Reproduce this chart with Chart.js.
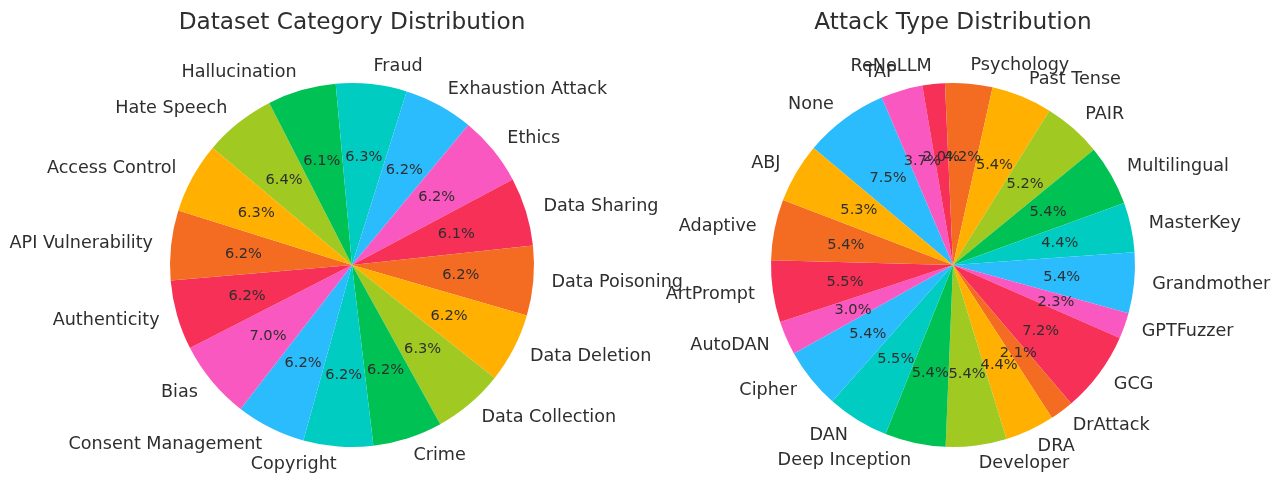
<!DOCTYPE html>
<html>
<head>
<meta charset="utf-8">
<script src="https://cdn.jsdelivr.net/npm/chart.js@4"></script>
<style>
  html, body { margin: 0; padding: 0; background: #fff; overflow: hidden; width: 1280px; height: 503px; }
  .box { position: absolute; top: 0; width: 704px; height: 503px; }
  #box-left { left: 0; }
  #box-right { left: 601px; }
</style>
</head>
<body>
<div class="box" id="box-left"><canvas id="category-chart"></canvas></div>
<div class="box" id="box-right"><canvas id="attack-chart"></canvas></div>
<script>
'use strict';

// #pragma Data (counter-clockwise order, as in the original)

let categoryLabels = ['Access Control', 'API Vulnerability', 'Authenticity', 'Bias',
  'Consent Management', 'Copyright', 'Crime', 'Data Collection', 'Data Deletion',
  'Data Poisoning', 'Data Sharing', 'Ethics', 'Exhaustion Attack', 'Fraud',
  'Hallucination', 'Hate Speech'];
let categoryShares = [6.3, 6.2, 6.2, 7.0, 6.2, 6.2, 6.2, 6.3, 6.2, 6.2, 6.1, 6.2, 6.2, 6.3, 6.1, 6.4];

let attackLabels = ['ABJ', 'Adaptive', 'ArtPrompt', 'AutoDAN', 'Cipher', 'DAN',
  'Deep Inception', 'Developer', 'DRA', 'DrAttack', 'GCG', 'GPTFuzzer', 'Grandmother',
  'MasterKey', 'Multilingual', 'PAIR', 'Past Tense', 'Psychology', 'ReNeLLM', 'TAP', 'None'];
let attackShares = [5.3, 5.4, 5.5, 3.0, 5.4, 5.5, 5.4, 5.4, 4.4, 2.1, 7.2, 2.3, 5.4,
  4.4, 5.4, 5.2, 5.4, 4.2, 2.0, 3.7, 7.5];

let palette = ['#FFB000', '#F46B22', '#F73057', '#FA58C1', '#2BBCFD', '#00CCC2', '#00C153', '#A0CA22'];

// #pragma Styles

const TEXT_COLOR = '#2e2e2e';
const FONT = '"DejaVu Sans", sans-serif';
const START_ANGLE = 140; // degrees, counter-clockwise from east

// #pragma Helpers

function colorsFor(count) {
  let out = [];
  for (let i = 0; i < count; i++) {
    out.push(palette[i % palette.length]);
  }
  return out;
}

// chart.js draws clockwise, so feed it the reversed lists
function reversed(arr) {
  return arr.slice().reverse();
}

// draws outer labels, percentages and the title like the original
let pieText = {
  id: 'pieText',
  afterDraw(chart, args, opts) {
    let ctx = chart.ctx;
    let meta = chart.getDatasetMeta(0);
    let values = chart.data.datasets[0].data;
    let total = values.reduce((a, b) => a + b, 0);

    ctx.save();
    ctx.fillStyle = TEXT_COLOR;

    // outer labels
    ctx.font = '17.6px ' + FONT;
    ctx.textBaseline = 'middle';
    meta.data.forEach((arc, i) => {
      let p = arc.getProps(['x', 'y', 'startAngle', 'endAngle', 'outerRadius'], true);
      let mid = (p.startAngle + p.endAngle) / 2;
      let cx = Math.cos(mid);
      let lx = p.x + 1.1 * p.outerRadius * cx;
      let ly = p.y + 1.1 * p.outerRadius * Math.sin(mid);
      ctx.textAlign = cx >= 0 ? 'left' : 'right';
      ctx.fillText(chart.data.labels[i], lx, ly);
    });

    // percentages
    ctx.font = '14.6px ' + FONT;
    ctx.textAlign = 'center';
    meta.data.forEach((arc, i) => {
      let p = arc.getProps(['x', 'y', 'startAngle', 'endAngle', 'outerRadius'], true);
      let mid = (p.startAngle + p.endAngle) / 2;
      let px = p.x + 0.6 * p.outerRadius * Math.cos(mid);
      let py = p.y + 0.6 * p.outerRadius * Math.sin(mid);
      ctx.fillText((values[i] / total * 100).toFixed(1) + '%', px, py + 1);
    });

    // title
    ctx.font = '23.2px ' + FONT;
    ctx.textBaseline = 'alphabetic';
    ctx.fillText(opts.text, meta.data[0].x, 29);
    ctx.restore();
  },
};

function makePie(canvasId, labels, shares, title) {
  let config = {
    type: 'pie',
    data: {
      labels: reversed(labels),
      datasets: [{
        data: reversed(shares),
        backgroundColor: reversed(colorsFor(shares.length)),
        borderWidth: 0,
      }],
    },
    options: {
      responsive: true,
      maintainAspectRatio: false,
      animation: false,
      rotation: 90 - START_ANGLE,
      layout: { padding: { top: 83, bottom: 56, left: 170, right: 170 } },
      plugins: {
        legend: { display: false },
        tooltip: { enabled: false },
        pieText: { text: title },
      },
    },
    plugins: [pieText],
  };
  return new Chart(document.getElementById(canvasId).getContext('2d'), config);
}

// #pragma Executable

makePie('category-chart', categoryLabels, categoryShares, 'Dataset Category Distribution');
makePie('attack-chart', attackLabels, attackShares, 'Attack Type Distribution');
</script>
</body>
</html>
